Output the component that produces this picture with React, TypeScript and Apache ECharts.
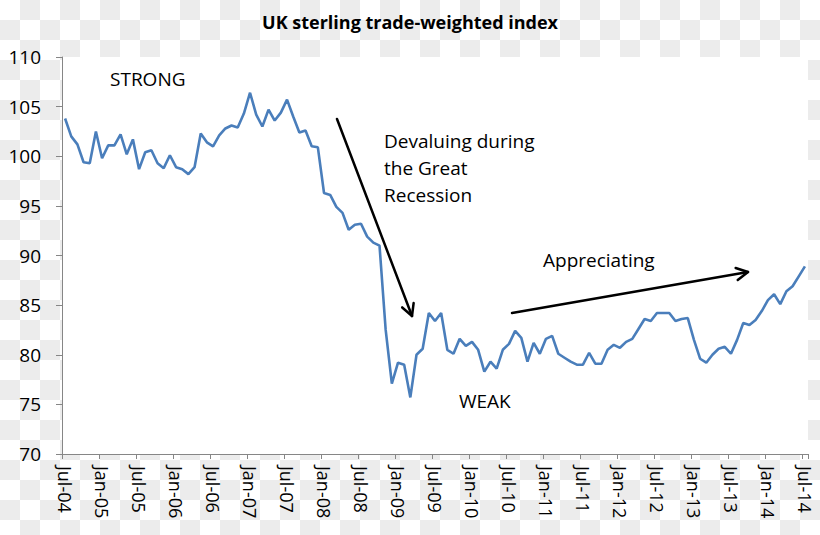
import React, { useEffect, useRef } from "react";
import * as echarts from "echarts";

const TITLE = "UK sterling trade-weighted index";
const MONTHS = ["Jan", "Feb", "Mar", "Apr", "May", "Jun", "Jul", "Aug", "Sep", "Oct", "Nov", "Dec"];
const START_YEAR = 2004;
const START_MONTH = 6; // Jul
const POINT_COUNT = 121; // Jul-04 .. Jul-14

const categories: string[] = [];
for (let i = 0; i < POINT_COUNT; i++) {
  const m = (START_MONTH + i) % 12;
  const y = START_YEAR + Math.floor((START_MONTH + i) / 12);
  categories.push(`${MONTHS[m]}-${String(y % 100).padStart(2, "0")}`);
}

const indexValues: number[] = [
  103.8, 102.0, 101.2, 99.4, 99.3, 102.5, 99.8, 101.1, 101.1, 102.2,
  100.2, 101.7, 98.7, 100.4, 100.6, 99.3, 98.8, 100.1, 98.9, 98.7,
  98.2, 98.9, 102.3, 101.4, 101.0, 102.1, 102.8, 103.1, 102.9, 104.3,
  106.4, 104.2, 103.0, 104.7, 103.6, 104.4, 105.7, 104.0, 102.4, 102.6,
  101.0, 100.9, 96.3, 96.1, 94.9, 94.3, 92.6, 93.1, 93.2, 91.9,
  91.3, 91.0, 82.5, 77.1, 79.2, 79.0, 75.7, 80.0, 80.6, 84.2,
  83.4, 84.2, 80.5, 80.1, 81.6, 80.9, 81.3, 80.5, 78.3, 79.3,
  78.6, 80.5, 81.1, 82.4, 81.7, 79.3, 81.2, 80.1, 81.6, 81.9,
  80.1, 79.7, 79.3, 79.0, 79.0, 80.2, 79.1, 79.1, 80.5, 81.0,
  80.7, 81.3, 81.6, 82.6, 83.6, 83.4, 84.2, 84.2, 84.2, 83.4,
  83.6, 83.7, 81.5, 79.6, 79.2, 80.0, 80.6, 80.8, 80.1, 81.5,
  83.2, 83.0, 83.5, 84.4, 85.5, 86.1, 85.1, 86.4, 86.9, 87.9,
  88.9,
];

const Y_MIN = 70;
const Y_MAX = 110;
const Y_STEP = 5;

const FONT = "'Open Sans', 'Noto Sans', sans-serif";

function arrow(x1: number, y1: number, x2: number, y2: number) {
  const dx = x2 - x1;
  const dy = y2 - y1;
  const len = Math.sqrt(dx * dx + dy * dy);
  const ux = dx / len;
  const uy = dy / len;
  const headLen = 13;
  const ang = (28 * Math.PI) / 180;
  const rot = (a: number) => [
    ux * Math.cos(a) - uy * Math.sin(a),
    ux * Math.sin(a) + uy * Math.cos(a),
  ];
  const [ax, ay] = rot(ang);
  const [bx, by] = rot(-ang);
  const style = { stroke: "#000", lineWidth: 2.5, fill: null as any, lineCap: "round", lineJoin: "round" };
  return [
    { type: "line", shape: { x1, y1, x2, y2 }, style },
    {
      type: "polyline",
      shape: {
        points: [
          [x2 - ax * headLen, y2 - ay * headLen],
          [x2, y2],
          [x2 - bx * headLen, y2 - by * headLen],
        ],
      },
      style,
    },
  ];
}

export default function App() {
  const ref = useRef<HTMLDivElement>(null);

  useEffect(() => {
    if (!ref.current) return;
    const chart = echarts.init(ref.current, null, { renderer: "svg" });
    const annoText = (text: string, x: number, y: number) => ({
      type: "text",
      x,
      y,
      style: {
        text,
        fill: "#000",
        font: `19px ${FONT}`,
        textAlign: "left",
        textVerticalAlign: "middle",
      },
    });
    chart.setOption({
      animation: false,
      backgroundColor: "transparent",
      title: {
        text: TITLE,
        left: "center",
        top: 8,
        textStyle: { fontFamily: FONT, fontSize: 18, fontWeight: "bold", color: "#000" },
      },
      grid: {
        left: 62,
        right: 12,
        top: 57,
        bottom: 81,
        show: true,
        backgroundColor: "#fff",
        borderWidth: 0,
      },
      xAxis: {
        type: "category",
        data: categories,
        boundaryGap: true,
        axisLine: { show: true, lineStyle: { color: "#868686", width: 1 } },
        axisTick: { show: true, interval: 5, length: 5, lineStyle: { color: "#868686" } },
        axisLabel: {
          interval: 5,
          rotate: -90,
          margin: 12,
          color: "#000",
          fontFamily: FONT,
          fontSize: 18,
        },
        splitLine: { show: false },
      },
      yAxis: {
        type: "value",
        min: Y_MIN,
        max: Y_MAX,
        interval: Y_STEP,
        axisLine: { show: true, lineStyle: { color: "#868686", width: 1 } },
        axisTick: { show: true, length: 6, lineStyle: { color: "#868686" } },
        axisLabel: { color: "#000", fontFamily: FONT, fontSize: 19, margin: 21 },
        splitLine: { show: false },
      },
      series: [
        {
          type: "line",
          data: indexValues,
          symbol: "none",
          smooth: false,
          lineStyle: { color: "#4A7EBB", width: 2.6 },
        },
      ],
      graphic: [
        annoText("STRONG", 110, 79),
        annoText("Devaluing during", 384, 141),
        annoText("the Great", 384, 168),
        annoText("Recession", 384, 195),
        annoText("Appreciating", 543, 260),
        annoText("WEAK", 459, 401),
        ...arrow(337, 119, 412, 316),
        ...arrow(512, 313, 748, 272),
      ],
    });
    return () => chart.dispose();
  }, []);

  return (
    <div
      ref={ref}
      style={{
        position: "absolute",
        left: 0,
        top: 0,
        width: 820,
        height: 535,
        backgroundImage:
          "conic-gradient(#ececec 0 25%, #ffffff 0 50%, #ececec 0 75%, #ffffff 0)",
        backgroundSize: "40px 40px",
      }}
    />
  );
}
